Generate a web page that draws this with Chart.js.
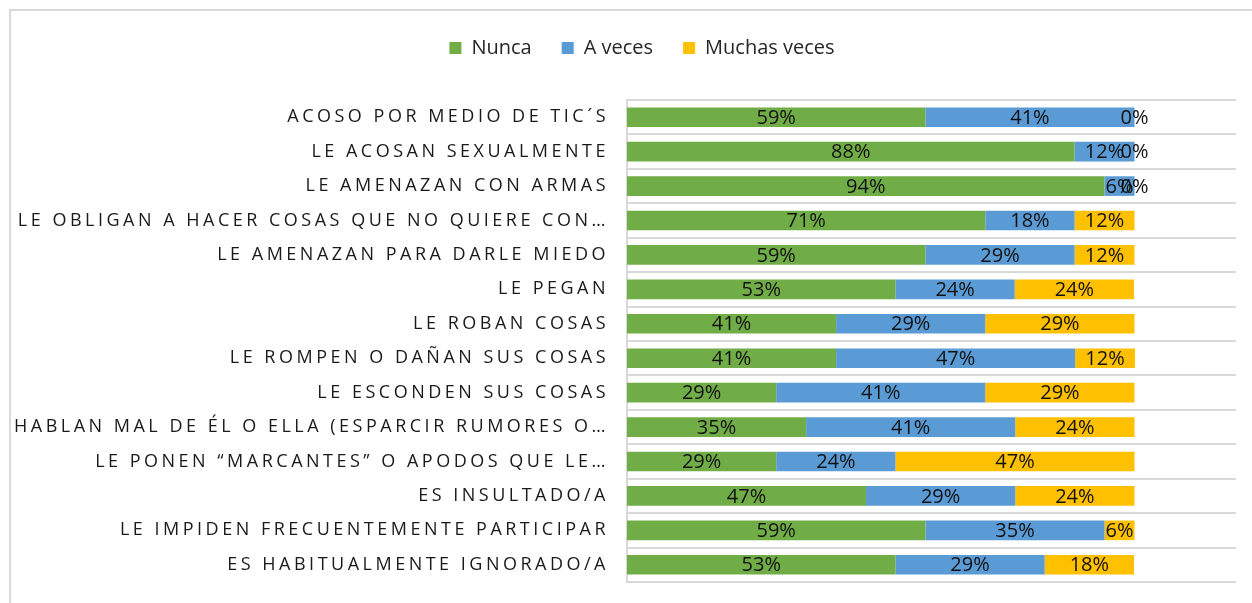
<!DOCTYPE html>
<html>
<head>
<meta charset="utf-8">
<script src="https://cdn.jsdelivr.net/npm/chart.js@4.4.1/dist/chart.umd.min.js"></script>
<style>
  html, body { margin: 0; padding: 0; background: #fff; }
  #wrap { position: relative; width: 1252px; height: 603px; overflow: hidden; }
  #frame { position: absolute; left: 9px; top: 9px; width: 1400px; height: 800px;
           border-left: 2px solid #d9d9d9; border-top: 2px solid #d9d9d9; pointer-events: none; }
</style>
</head>
<body>
<div id="wrap">
  <canvas id="bullyChart"></canvas>
  <div id="frame"></div>
</div>
<script>
// Chart Global Config
Chart.defaults.font.family = "'Open Sans', sans-serif";
Chart.defaults.color = '#262626';

const categories = [
    'ACOSO POR MEDIO DE TIC´S',
    'LE ACOSAN SEXUALMENTE',
    'LE AMENAZAN CON ARMAS',
    'LE OBLIGAN A HACER COSAS QUE NO QUIERE CON…',
    'LE AMENAZAN PARA DARLE MIEDO',
    'LE PEGAN',
    'LE ROBAN COSAS',
    'LE ROMPEN O DAÑAN SUS COSAS',
    'LE ESCONDEN SUS COSAS',
    'HABLAN MAL DE ÉL O ELLA (ESPARCIR RUMORES O…',
    'LE PONEN “MARCANTES” O APODOS QUE LE…',
    'ES INSULTADO/A',
    'LE IMPIDEN FRECUENTEMENTE PARTICIPAR',
    'ES HABITUALMENTE IGNORADO/A'
];

// percentages (shown rounded on the bars)
const nunca = [58.8, 88.2, 94.1, 70.6, 58.8, 52.9, 41.2, 41.2, 29.4, 35.3, 29.4, 47.1, 58.8, 52.9];
const aVeces = [41.2, 11.8, 5.9, 17.6, 29.4, 23.5, 29.4, 47.1, 41.2, 41.2, 23.5, 29.4, 35.3, 29.4];
const muchasVeces = [0, 0, 0, 11.8, 11.8, 23.5, 29.4, 11.8, 29.4, 23.5, 47.1, 23.5, 5.9, 17.6];

const seriesNames = ['Nunca', 'A veces', 'Muchas veces'];
const seriesColors = ['#70AD47', '#5B9BD5', '#FFC000'];

// draws the value inside each bar segment
const barLabels = {
    id: 'barLabels',
    afterDatasetsDraw(chart) {
        const ctx = chart.ctx;
        ctx.save();
        ctx.font = "20px 'Open Sans', sans-serif";
        ctx.fillStyle = '#111';
        ctx.textAlign = 'center';
        ctx.textBaseline = 'middle';
        chart.data.datasets.forEach((ds, i) => {
            chart.getDatasetMeta(i).data.forEach((bar, j) => {
                const cx = (bar.x + bar.base) / 2;
                ctx.fillText(Math.round(ds.data[j]) + '%', cx, bar.y + 1);
            });
        });
        ctx.restore();
    }
};

// spaced capitals on the category axis, long ones may run past the axis box
const spacedTicks = {
    id: 'spacedTicks',
    beforeDraw(chart) {
        const s = chart.scales.y;
        if (s && !s._spaced) {
            const orig = s.drawLabels.bind(s);
            s._computeLabelArea = () => null;
            s.drawLabels = function (area) {
                this.ctx.save();
                this.ctx.letterSpacing = '3.5px';
                orig(area);
                this.ctx.restore();
            };
            s._spaced = true;
        }
    }
};

new Chart(document.getElementById('bullyChart'), {
    type: 'bar',
    data: {
        labels: categories,
        datasets: [nunca, aVeces, muchasVeces].map((vals, i) => ({
            label: seriesNames[i],
            data: vals,
            backgroundColor: seriesColors[i],
            borderWidth: 0,
            barPercentage: 0.57,
            categoryPercentage: 1
        }))
    },
    options: {
        indexAxis: 'y',
        responsive: true,
        maintainAspectRatio: false,
        animation: false,
        layout: { padding: { top: 8, right: 16, bottom: 21, left: 48 } },
        plugins: {
            legend: {
                position: 'top',
                labels: {
                    boxWidth: 12,
                    boxHeight: 12,
                    padding: 30,
                    color: '#262626',
                    font: { size: 20 }
                }
            },
            tooltip: { enabled: false }
        },
        scales: {
            x: {
                stacked: true,
                position: 'top',
                min: 0,
                max: 120,
                grid: { display: false },
                border: { display: false },
                ticks: { display: false },
                afterFit(scale) { scale.height = 32; }
            },
            y: {
                stacked: true,
                grid: { color: '#d9d9d9', lineWidth: 2, drawTicks: false },
                border: { color: '#d9d9d9', width: 2 },
                ticks: {
                    padding: 18,
                    color: '#1a1a1a',
                    font: { size: 18 }
                },
                afterFit(scale) {
                    scale.width = 627 - 48;
                    scale.paddingTop = 0;
                    scale.paddingBottom = 0;
                }
            }
        }
    },
    plugins: [barLabels, spacedTicks]
});
</script>
</body>
</html>
